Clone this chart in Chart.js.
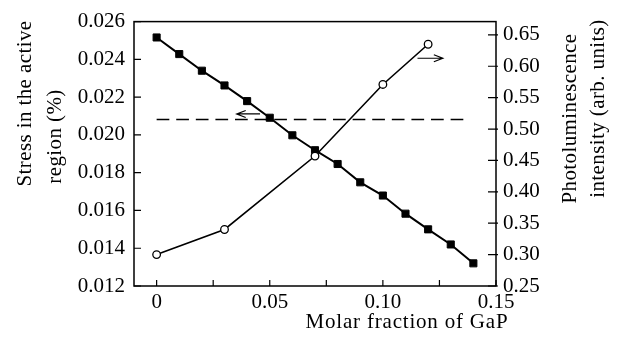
<!DOCTYPE html>
<html>
<head>
<meta charset="utf-8">
<script src="https://cdn.jsdelivr.net/npm/chart.js@4.4.0/dist/chart.umd.min.js"></script>
<style>
  html, body { margin: 0; padding: 0; background: #fff; }
  #wrap { width: 617px; height: 338px; }
</style>
</head>
<body>
<div id="wrap"><canvas id="chart"></canvas></div>
<script>
/* values */
const GAP_FRACTION = [0, 0.01, 0.02, 0.03, 0.04, 0.05, 0.06, 0.07, 0.08, 0.09, 0.10, 0.11, 0.12, 0.13, 0.14];
const STRESS = [0.02516, 0.02428, 0.0234, 0.02262, 0.02179, 0.02091, 0.01998, 0.01919, 0.01846,
                0.01749, 0.01679, 0.01583, 0.0150, 0.0142, 0.0132];

const PL_FRACTION = [0, 0.03, 0.07, 0.10, 0.12];
const PL_INTENSITY = [0.30, 0.34, 0.457, 0.571, 0.635];

const DASH_FRACTION = [0, 0.136];
const DASH_STRESS = [0.02082, 0.02082];

// arrows: [x from, x to], y on their own axis
const ARROW_LEFT_X = [0.0457, 0.0354];
const ARROW_LEFT_STRESS = 0.02111;
const ARROW_RIGHT_X = [0.1153, 0.1265];
const ARROW_RIGHT_PL = 0.6127;

const X_TICKS = [0, 0.025, 0.05, 0.075, 0.10, 0.125, 0.15];
const X_LABELS = ['0', '', '0.05', '', '0.10', '', '0.15'];
const STRESS_TICKS = [0.012, 0.014, 0.016, 0.018, 0.020, 0.022, 0.024, 0.026];
const STRESS_LABELS = ['0.012', '0.014', '0.016', '0.018', '0.020', '0.022', '0.024', '0.026'];
const PL_TICKS = [0.25, 0.30, 0.35, 0.40, 0.45, 0.50, 0.55, 0.60, 0.65];
const PL_LABELS = ['0.25', '0.30', '0.35', '0.40', '0.45', '0.50', '0.55', '0.60', '0.65'];

const SERIF = '"Liberation Serif", "Times New Roman", serif';
Chart.defaults.font = { family: SERIF, size: 21 };
Chart.defaults.color = '#000';

function pts(xs, ys) {
  return xs.map((x, i) => ({ x, y: ys[i] }));
}

function useTicks(values) {
  return scale => { scale.ticks = values.map(value => ({ value })); };
}

function arrow(ctx, x0, y0, x1, y1) {
  const dir = Math.sign(x1 - x0);
  ctx.beginPath();
  ctx.moveTo(x0, y0);
  ctx.lineTo(x1, y1);
  ctx.moveTo(x1 - dir * 9, y1 - 3.5);
  ctx.lineTo(x1, y1);
  ctx.lineTo(x1 - dir * 9, y1 + 3.5);
  ctx.stroke();
}

function vtext(ctx, text, x, y) {
  ctx.save();
  ctx.translate(x, y);
  ctx.rotate(-Math.PI / 2);
  ctx.fillText(text, 0, 0);
  ctx.restore();
}

/* frame, inward ticks, arrows and axis titles */
const framePlugin = {
  id: 'frame',
  afterDatasetsDraw(chart) {
    const { ctx, chartArea: a, scales } = chart;
    ctx.save();
    ctx.strokeStyle = '#000';
    ctx.lineWidth = 1.5;
    ctx.strokeRect(a.left, a.top, a.right - a.left, a.bottom - a.top);

    ctx.lineWidth = 1.2;
    ctx.beginPath();
    X_TICKS.forEach(v => {
      const x = scales.x.getPixelForValue(v);
      ctx.moveTo(x, a.bottom); ctx.lineTo(x, a.bottom - 6);
    });
    STRESS_TICKS.forEach(v => {
      const y = scales.y.getPixelForValue(v);
      ctx.moveTo(a.left, y); ctx.lineTo(a.left + 7, y);
    });
    PL_TICKS.forEach(v => {
      const y = scales.pl.getPixelForValue(v);
      ctx.moveTo(a.right - 8, y); ctx.lineTo(a.right + 2, y);
    });
    ctx.stroke();

    const yl = scales.y.getPixelForValue(ARROW_LEFT_STRESS);
    arrow(ctx, scales.x.getPixelForValue(ARROW_LEFT_X[0]), yl, scales.x.getPixelForValue(ARROW_LEFT_X[1]), yl);
    const yr = scales.pl.getPixelForValue(ARROW_RIGHT_PL);
    arrow(ctx, scales.x.getPixelForValue(ARROW_RIGHT_X[0]), yr, scales.x.getPixelForValue(ARROW_RIGHT_X[1]), yr);

    ctx.fillStyle = '#000';
    ctx.font = '21px ' + SERIF;
    ctx.textAlign = 'center';
    ctx.textBaseline = 'middle';
    ctx.letterSpacing = '0.4px';
    vtext(ctx, 'Stress in the active', 25, 103.5);
    vtext(ctx, 'region (%)', 55, 136.5);
    vtext(ctx, 'Photoluminescence', 570, 118.5);
    vtext(ctx, 'intensity (arb. units)', 598, 108.5);
    ctx.letterSpacing = '0.8px';
    ctx.fillText('Molar fraction of GaP', 407, 322);
    ctx.restore();
  }
};

new Chart(document.getElementById('chart'), {
  type: 'line',
  data: {
    datasets: [
      {
        data: pts(PL_FRACTION, PL_INTENSITY),
        yAxisID: 'pl',
        borderColor: '#000',
        borderWidth: 1.6,
        pointStyle: 'circle',
        pointRadius: 3.8,
        pointBorderWidth: 1.3,
        pointBackgroundColor: '#fff',
        pointBorderColor: '#000',
        order: 0,
      },
      {
        data: pts(GAP_FRACTION, STRESS),
        yAxisID: 'y',
        borderColor: '#000',
        borderWidth: 2,
        pointStyle: 'rect',
        pointRadius: 5,
        pointBorderWidth: 1,
        pointBackgroundColor: '#000',
        pointBorderColor: '#000',
        order: 1,
      },
      {
        data: pts(DASH_FRACTION, DASH_STRESS),
        yAxisID: 'y',
        borderColor: '#000',
        borderWidth: 1.5,
        borderDash: [12.7, 6.9],
        pointRadius: 0,
        order: 2,
      },
    ],
  },
  options: {
    responsive: true,
    maintainAspectRatio: false,
    animation: false,
    layout: { padding: { top: 20, left: 0, right: 0, bottom: 0 } },
    plugins: {
      legend: { display: false },
      tooltip: { enabled: false },
    },
    scales: {
      x: {
        type: 'linear',
        position: 'bottom',
        min: -0.01,
        max: 0.15,
        afterBuildTicks: useTicks(X_TICKS),
        afterFit: scale => { scale.height = 52; },
        grid: { display: false, drawTicks: false },
        border: { display: false },
        ticks: {
          autoSkip: false,
          maxRotation: 0,
          minRotation: 0,
          padding: 4,
          callback: (v, i) => X_LABELS[i],
        },
      },
      y: {
        type: 'linear',
        position: 'left',
        min: 0.012,
        max: 0.026,
        afterBuildTicks: useTicks(STRESS_TICKS),
        afterFit: scale => { scale.width = 134; },
        grid: { display: false, drawTicks: false },
        border: { display: false },
        ticks: { padding: 9, callback: (v, i) => STRESS_LABELS[i] },
      },
      pl: {
        type: 'linear',
        position: 'right',
        min: 0.25,
        max: 0.6711,
        afterBuildTicks: useTicks(PL_TICKS),
        afterFit: scale => { scale.width = 121; },
        grid: { display: false, drawTicks: false },
        border: { display: false },
        ticks: { padding: 7, callback: (v, i) => PL_LABELS[i] },
      },
    },
  },
  plugins: [framePlugin],
});
</script>
</body>
</html>
